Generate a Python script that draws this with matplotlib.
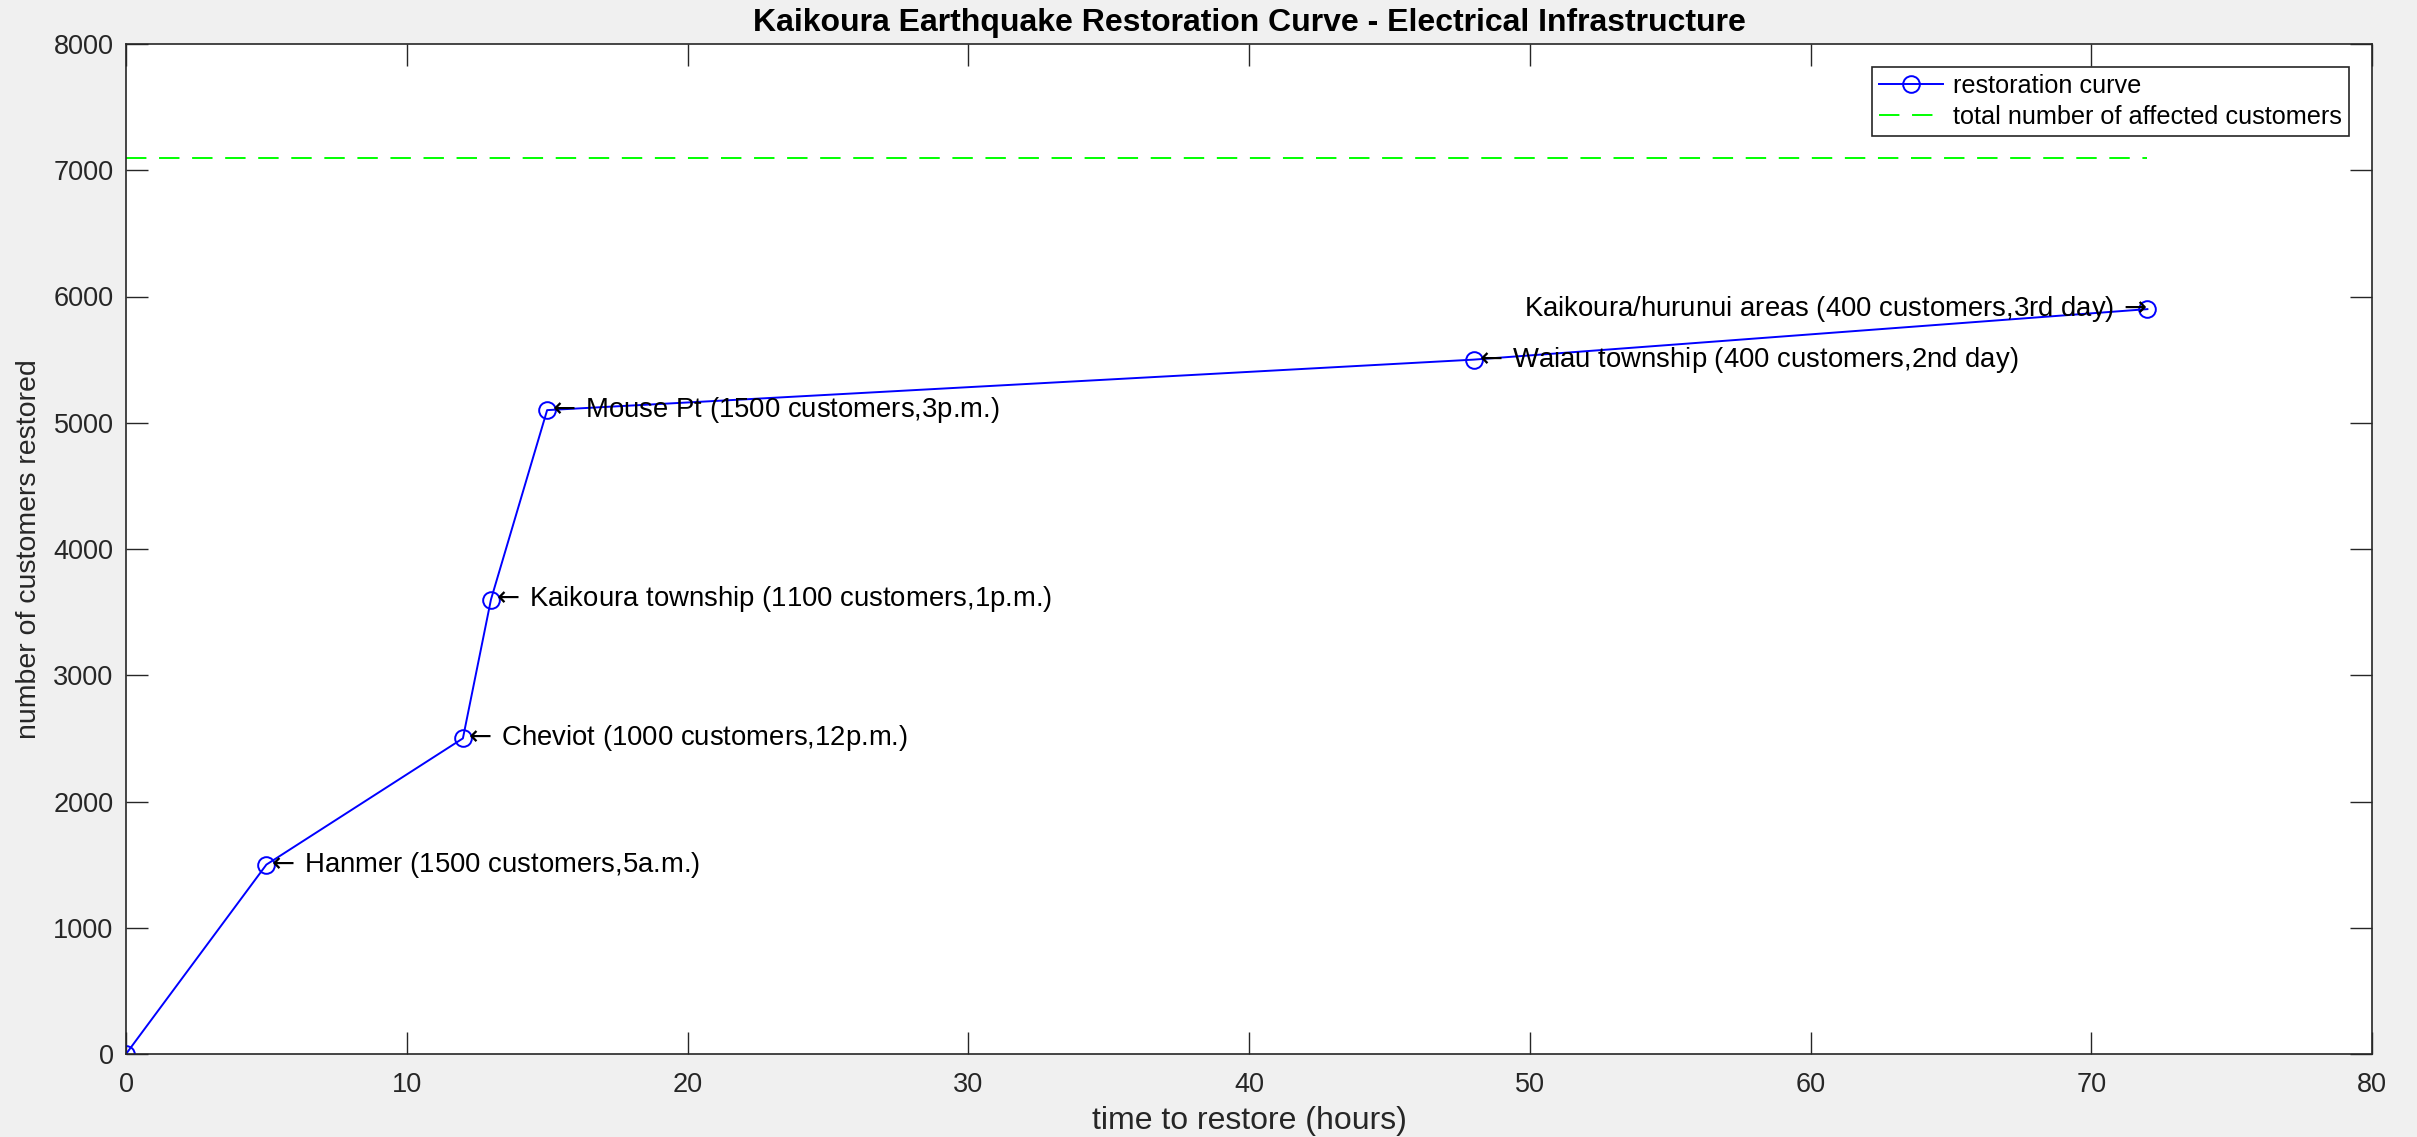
import matplotlib
matplotlib.use('Agg')
import matplotlib.pyplot as plt

# restoration data
hours = [0, 5, 12, 13, 15, 48, 72]
customers = [0, 1500, 2500, 3600, 5100, 5500, 5900]
total_affected = 7100

notes = [
    (5, 1500, 'Hanmer (1500 customers,5a.m.)', 'left'),
    (12, 2500, 'Cheviot (1000 customers,12p.m.)', 'left'),
    (13, 3600, 'Kaikoura township (1100 customers,1p.m.)', 'left'),
    (15, 5100, 'Mouse Pt (1500 customers,3p.m.)', 'left'),
    (48, 5500, 'Waiau township (400 customers,2nd day)', 'left'),
    (72, 5900, 'Kaikoura/hurunui areas (400 customers,3rd day)', 'right'),
]

xticks = list(range(0, 81, 10))
yticks = list(range(0, 8001, 1000))

plt.rcParams['font.family'] = ['Liberation Sans', 'DejaVu Sans']
plt.rcParams['mathtext.fontset'] = 'dejavusans'
dark = '#262626'

W, H = 2417, 1137
fig = plt.figure(figsize=(W / 100, H / 100), dpi=100, facecolor='#f0f0f0')
ax = fig.add_axes([126 / W, 83 / H, (2372 - 126) / W, (1054 - 44) / H])

ax.plot(hours, customers, color='#0000ff', lw=1.4, marker='o', ms=12,
        mfc='none', mec='#0000ff', mew=1.4, label='restoration curve')
ax.plot([0, 72], [total_affected, total_affected], color='#00ff00', lw=1.4,
        linestyle=(0, (10.5, 6.5)), label='total number of affected customers')

# MATLAB style text labels with a leading / trailing arrow
for x, y, txt, side in notes:
    if side == 'left':
        s = r'$\leftarrow\,$' + txt
    else:
        s = txt + r'$\,\rightarrow$'
    ax.text(x, y, s, ha=side, va='center', fontsize=19.8, color='black')

ax.set_xlim(0, 80)
ax.set_ylim(0, 8000)
ax.set_xticks(xticks)
ax.set_yticks(yticks)
ax.tick_params(direction='in', length=16, width=1.0, top=True, right=True,
               labelsize=19.5, colors=dark, pad=9)
ax.tick_params(axis='x', pad=13)
for sp in ax.spines.values():
    sp.set_color(dark)
    sp.set_linewidth(1.2)

ax.set_xlabel('time to restore (hours)', fontsize=23, color=dark, labelpad=6)
ax.set_ylabel('number of customers restored', fontsize=20.5, color=dark, labelpad=8)
ax.set_title('Kaikoura Earthquake Restoration Curve - Electrical Infrastructure',
             fontsize=23, fontweight='bold', color='black', pad=9)

leg = ax.legend(loc='upper right', fontsize=18.2, fancybox=False, framealpha=1,
                edgecolor=dark, handlelength=2.5, borderaxespad=0.9,
                borderpad=0.3, labelspacing=0.25, handletextpad=0.4)
leg.get_frame().set_linewidth(1.2)

fig.savefig('out.png', dpi=100, facecolor=fig.get_facecolor())
